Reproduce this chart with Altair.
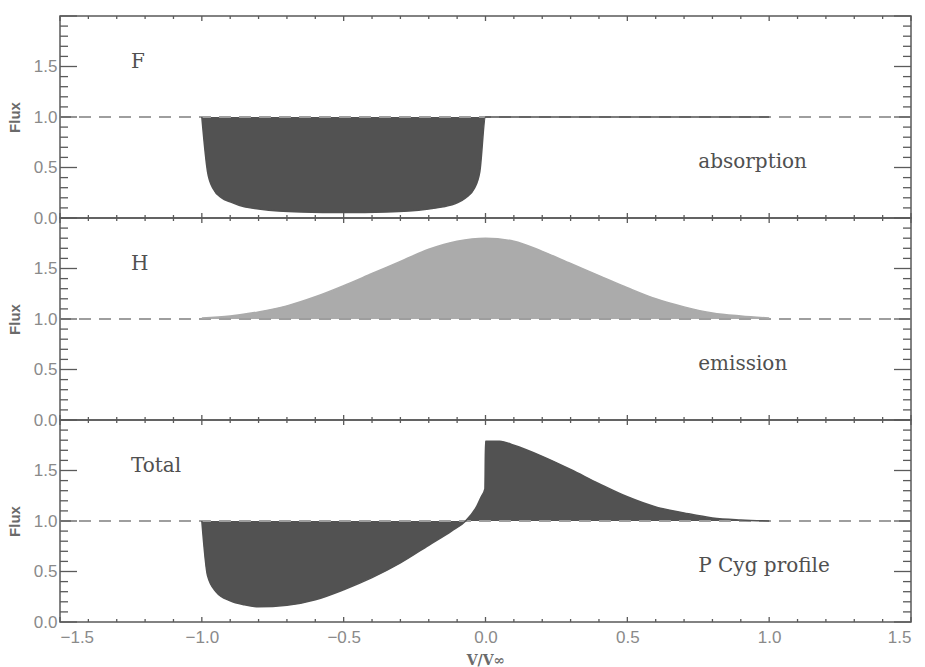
import altair as alt
import pandas as pd
import numpy as np

# ---- data ----
# top panel: absorption profile F
abs_v = [-1.0, -0.98, -0.96, -0.93, -0.90, -0.85, -0.80, -0.73, -0.65, -0.50,
         -0.35, -0.27, -0.20, -0.15, -0.10, -0.07, -0.04, -0.02, 0.0, 1.0]
abs_f = [1.0, 0.46, 0.29, 0.20, 0.16, 0.11, 0.09, 0.07, 0.06, 0.055,
         0.06, 0.07, 0.09, 0.11, 0.15, 0.20, 0.29, 0.46, 1.0, 1.0]

# middle panel: emission profile H
emi_v = [-1.0, -0.9, -0.8, -0.7, -0.6, -0.5, -0.4, -0.3, -0.2, -0.1, 0.0,
         0.1, 0.2, 0.3, 0.4, 0.5, 0.6, 0.7, 0.8, 0.9, 1.0]
emi_f = [1.01, 1.03, 1.07, 1.13, 1.22, 1.33, 1.45, 1.57, 1.69, 1.77, 1.80,
         1.77, 1.67, 1.55, 1.43, 1.31, 1.20, 1.12, 1.06, 1.03, 1.01]

# bottom panel: total (P Cyg) profile
tot_v = [-1.0, -0.98, -0.95, -0.90, -0.85, -0.80, -0.70, -0.60, -0.50, -0.40,
         -0.30, -0.20, -0.12, -0.07, -0.03, -0.015, -0.002, 0.0, 0.05, 0.10,
         0.20, 0.30, 0.40, 0.50, 0.60, 0.70, 0.80, 0.90, 1.0]
tot_f = [1.0, 0.46, 0.30, 0.21, 0.17, 0.15, 0.165, 0.22, 0.32, 0.44,
         0.585, 0.76, 0.90, 1.0, 1.15, 1.24, 1.32, 1.79, 1.79, 1.75,
         1.64, 1.51, 1.37, 1.24, 1.14, 1.08, 1.03, 1.01, 1.0]

continuum = [1.0]

panel_names = ["F", "H", "Total"]
panel_notes = ["absorption", "emission", "P Cyg profile"]
name_pos = [-1.25, 1.54]
note_pos = [0.75, 0.55]

y_major = [0.0, 0.5, 1.0, 1.5, 2.0]
y_minor = [round(v, 1) for v in np.arange(0.1, 2.0, 0.1) if round(v * 10) % 5 != 0]
x_major = [-1.5, -1.0, -0.5, 0.0, 0.5, 1.0, 1.5]
x_minor = [round(v, 1) for v in np.arange(-1.4, 1.5, 0.1) if round(v * 10) % 5 != 0]
y_labels = [0.0, 0.5, 1.0, 1.5]
x_labels = [-1.5, -1.0, -0.5, 0.0, 0.5, 1.0, 1.5]

# ---- styling ----
W, H = 851, 202
FRAME = "#5a5a5a"
DARK = "#525252"
LIGHT = "#ababab"
DASH = "#9e9e9e"
LABEL = "#8a8a8a"

xscale = alt.Scale(domain=[-1.5, 1.5], nice=False, zero=False)
yscale = alt.Scale(domain=[0, 2], nice=False, zero=False)

yaxis = alt.Axis(values=y_labels, format=".1f", ticks=False, tickSize=0, domain=False,
                 grid=False, labelPadding=3, labelFont="Liberation Sans",
                 labelFontSize=17, labelColor=LABEL, title="Flux",
                 titleFont="Liberation Sans", titleFontSize=15, titleFontWeight="bold",
                 titleColor="#6a6a6a", titlePadding=11)
xaxis = alt.Axis(values=x_labels, format=".1f", ticks=False, tickSize=0, domain=False,
                 grid=False, labelPadding=7, labelFont="Liberation Sans",
                 labelFontSize=17, labelColor=LABEL, title="V/V∞",
                 titleFont="DejaVu Serif", titleFontSize=14, titleFontWeight="bold",
                 titleColor="#6a6a6a", titlePadding=8)


def panel(xs, ys, fill, idx, show_x):
    X = alt.X("x:Q", scale=xscale, axis=xaxis if show_x else None)
    Y = alt.Y("y:Q", scale=yscale, axis=yaxis)
    df = pd.DataFrame({"x": xs, "y": ys})
    area = alt.Chart(df).mark_area(color=fill, opacity=1, interpolate="monotone").encode(
        x=X, y=Y, y2=alt.datum(1.0))
    line = alt.Chart(df).mark_line(color=fill, strokeWidth=1.5,
                                   interpolate="monotone").encode(x=X, y=Y)
    dashed = alt.Chart(pd.DataFrame({"y": continuum})).mark_rule(
        color=DASH, strokeWidth=2, strokeDash=[12, 8]).encode(y=Y)
    ann = pd.DataFrame({
        "x": [name_pos[0], note_pos[0]],
        "y": [name_pos[1], note_pos[1]],
        "label": [panel_names[idx], panel_notes[idx]],
    })
    text = alt.Chart(ann).mark_text(align="left", baseline="middle",
                                    font="DejaVu Serif", fontSize=20,
                                    color="#505050").encode(x=X, y=Y, text="label:N")
    ym = pd.DataFrame({"y": y_major})
    yn = pd.DataFrame({"y": y_minor})
    xm = pd.DataFrame({"x": x_major})
    xn = pd.DataFrame({"x": x_minor})
    tk = dict(color=FRAME, strokeWidth=1.3)
    ticks = [
        alt.Chart(ym).mark_rule(**tk).encode(y=Y, x=alt.value(0), x2=alt.value(17)),
        alt.Chart(yn).mark_rule(**tk).encode(y=Y, x=alt.value(0), x2=alt.value(8)),
        alt.Chart(ym).mark_rule(**tk).encode(y=Y, x=alt.value(W), x2=alt.value(W - 17)),
        alt.Chart(yn).mark_rule(**tk).encode(y=Y, x=alt.value(W), x2=alt.value(W - 8)),
        alt.Chart(xm).mark_rule(**tk).encode(x=X, y=alt.value(0), y2=alt.value(5)),
        alt.Chart(xn).mark_rule(**tk).encode(x=X, y=alt.value(0), y2=alt.value(3)),
        alt.Chart(xm).mark_rule(**tk).encode(x=X, y=alt.value(H), y2=alt.value(H - 5)),
        alt.Chart(xn).mark_rule(**tk).encode(x=X, y=alt.value(H), y2=alt.value(H - 3)),
    ]
    return alt.layer(area, dashed, line, text, *ticks).properties(width=W, height=H)


p1 = panel(abs_v, abs_f, DARK, 0, False)
p2 = panel(emi_v, emi_f, LIGHT, 1, False)
p3 = panel(tot_v, tot_f, DARK, 2, True)

chart = alt.vconcat(p1, p2, p3, spacing=0, bounds="flush").properties(
    padding={"left": 6, "top": 14, "right": 5, "bottom": 5},
    background="white",
).configure_view(stroke=FRAME, strokeWidth=1.5)

chart.save("out.html", embed_options={"renderer": "svg", "actions": False})
